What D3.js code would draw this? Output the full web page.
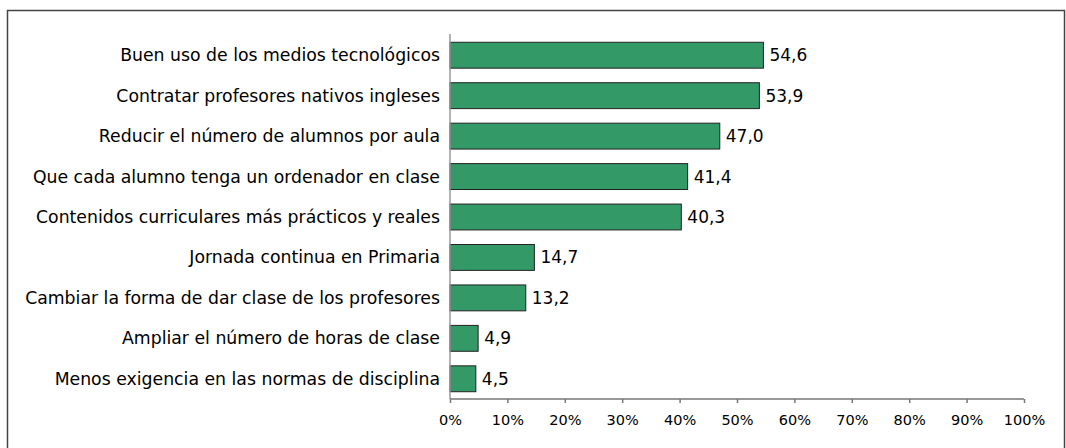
<!DOCTYPE html>
<html><head><meta charset="utf-8">
<script src="https://cdn.jsdelivr.net/npm/d3@7"></script>
<style>body{margin:0;background:#fff}svg{display:block}</style>
</head><body>
<script>
const categories = [
  "Buen uso de los medios tecnológicos",
  "Contratar profesores nativos ingleses",
  "Reducir el número de alumnos por aula",
  "Que cada alumno tenga un ordenador en clase",
  "Contenidos curriculares más prácticos y reales",
  "Jornada continua en Primaria",
  "Cambiar la forma de dar clase de los profesores",
  "Ampliar el número de horas de clase",
  "Menos exigencia en las normas de disciplina"
];
const values = [54.6, 53.9, 47.0, 41.4, 40.3, 14.7, 13.2, 4.9, 4.5];
const ticks = [0,10,20,30,40,50,60,70,80,90,100];

const W = 1066, H = 448;
const FONT = "'DejaVu Sans', Verdana, sans-serif";
const svg = d3.select("body").append("svg").attr("width", W).attr("height", H)
  .style("font-family", FONT);

// outer frame (bottom cut off)
svg.append("path").attr("d", `M7.5,${H+2}V10.5H1064.5V${H+2}`)
  .attr("fill", "none").attr("stroke", "#444").attr("stroke-width", 1.5);

const x = d3.scaleLinear().domain([0, 100]).range([450, 1024]);
const y = d3.scaleBand().domain(categories).range([35, 399]).paddingInner(0.36).paddingOuter(0.18);

svg.selectAll("rect.bar").data(values).join("rect").attr("class", "bar")
  .attr("x", x(0)).attr("y", (d,i) => y(categories[i]))
  .attr("width", d => x(d) - x(0)).attr("height", y.bandwidth())
  .attr("fill", "#339966").attr("stroke", "#222").attr("stroke-width", 1);

// y axis line
svg.append("line").attr("x1", x(0)).attr("x2", x(0)).attr("y1", 34).attr("y2", 399)
  .attr("stroke", "#999").attr("stroke-width", 1.5);

// category labels
svg.selectAll("text.cat").data(categories).join("text").attr("class", "cat")
  .attr("x", 440).attr("y", d => y(d) + y.bandwidth()/2)
  .attr("dy", "0.35em").attr("text-anchor", "end")
  .attr("font-size", 17.3).attr("fill", "#000").text(d => d);

// value labels
svg.selectAll("text.val").data(values).join("text").attr("class", "val")
  .attr("x", d => x(d) + 6).attr("y", (d,i) => y(categories[i]) + y.bandwidth()/2)
  .attr("dy", "0.35em").attr("font-size", 17).attr("fill", "#000")
  .text(d => d.toFixed(1).replace(".", ","));

// x axis
const xAxis = d3.axisBottom(x).tickValues(ticks).tickSize(5).tickSizeOuter(0)
  .tickFormat(d => d + "%").tickPadding(11);
const gx = svg.append("g").attr("transform", "translate(0,399)").call(xAxis);
gx.select(".domain").attr("stroke", "#777").attr("stroke-width", 1.5).attr("d", `M${x(0)},0H${x(100)}`);
gx.selectAll(".tick line").attr("stroke", "#777").attr("stroke-width", 1.5).attr("y1", 0).attr("y2", 4);
gx.selectAll(".tick text").attr("font-size", 14.5).attr("font-family", FONT).attr("fill", "#000");
</script>
</body></html>
